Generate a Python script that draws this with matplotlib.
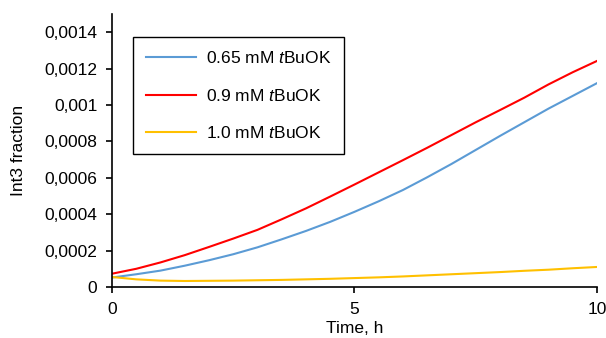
import matplotlib
matplotlib.use("Agg")
import matplotlib.pyplot as plt
from matplotlib.ticker import FuncFormatter, MultipleLocator
import numpy as np

plt.rcParams['font.family'] = ['Liberation Sans', 'DejaVu Sans']
plt.rcParams['mathtext.fontset'] = 'custom'
plt.rcParams['mathtext.rm'] = 'Liberation Sans'
plt.rcParams['mathtext.it'] = 'Liberation Sans:italic'

time_h = [0, 0.5, 1, 1.5, 2, 2.5, 3, 3.5, 4, 4.5, 5, 5.5, 6, 6.5, 7, 7.5, 8, 8.5, 9, 9.5, 10]
int3_065 = [0.000052, 0.00007, 0.00009, 0.000117, 0.000147, 0.00018, 0.000218, 0.000262, 0.000308,
            0.000358, 0.000413, 0.000471, 0.000533, 0.000603, 0.000676, 0.000753, 0.00083, 0.000905,
            0.00098, 0.00105, 0.00112]
int3_09 = [0.000073, 0.0001, 0.000135, 0.000175, 0.00022, 0.000266, 0.000314, 0.000372, 0.000432,
           0.000497, 0.000563, 0.00063, 0.000697, 0.000765, 0.000835, 0.000905, 0.000972, 0.00104,
           0.001113, 0.00118, 0.001242]
int3_10 = [0.000055, 0.000042, 0.000035, 0.000033, 0.000034, 0.000035, 0.000037, 0.000039, 0.000042,
           0.000045, 0.000049, 0.000053, 0.000058, 0.000064, 0.00007, 0.000076, 0.000082, 0.000089,
           0.000095, 0.000103, 0.00011]
labels = ['0.65 mM $\\it{t}$BuOK', '0.9 mM $\\it{t}$BuOK', '1.0 mM $\\it{t}$BuOK']
colors = ['#5B9BD5', '#FF0000', '#FFC000']

FS = 12.5
fig = plt.figure(figsize=(6.06, 3.38), dpi=100)
ax = fig.add_axes([0.1848, 0.1509, 0.8003, 0.8077])

for y, lab, c in zip([int3_065, int3_09, int3_10], labels, colors):
    ax.plot(time_h, y, color=c, lw=1.5, label=lab)

ax.set_xlim(0, 10)
ax.set_ylim(0, 0.0015)
ax.xaxis.set_major_locator(MultipleLocator(5))
ax.set_yticks(np.arange(0, 0.00141, 0.0002))

def fmt(v, pos):
    if abs(v) < 1e-12:
        return '0'
    s = ('%.4f' % v).rstrip('0')
    return s.replace('.', ',')
ax.yaxis.set_major_formatter(FuncFormatter(fmt))

for s in ['top', 'right']:
    ax.spines[s].set_visible(False)
for s in ['left', 'bottom']:
    ax.spines[s].set_linewidth(1.2)
ax.tick_params(direction='out', length=4.5, width=1.2, labelsize=FS)
ax.tick_params(axis='y', pad=6)
ax.tick_params(axis='x', pad=6)

ax.set_xlabel('Time, h', fontsize=FS, labelpad=3)
ax.set_ylabel('Int3 fraction', fontsize=FS, labelpad=13)

leg = ax.legend(loc='upper left', bbox_to_anchor=(0.0433, 0.916), fontsize=FS,
                frameon=True, fancybox=False, edgecolor='black', framealpha=1,
                handlelength=2.9, labelspacing=1.25, borderpad=0.75, handletextpad=0.55,
                borderaxespad=0)
leg.get_frame().set_linewidth(1.0)

fig.savefig('out.png', dpi=100)
